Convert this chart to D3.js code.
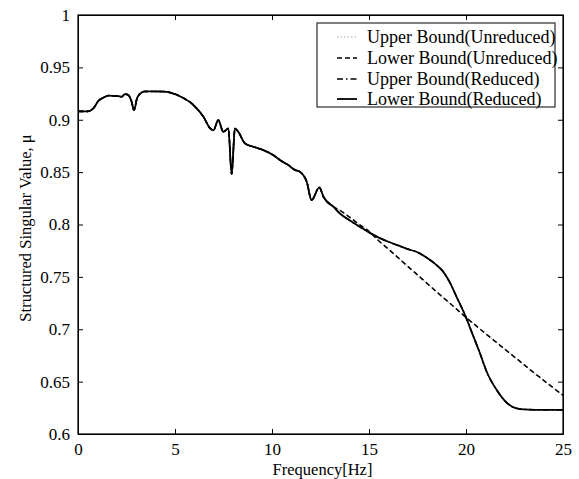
<!DOCTYPE html>
<html lang="en">
<head>
    <meta charset="UTF-8">
    <title>Structured Singular Value</title>
    <script src="https://cdn.jsdelivr.net/npm/d3@7"></script>
    <style>
        body { margin: 0; background: #fff; }
        svg { display: block; }
        .tick-label { font: 17px "Liberation Serif", "Times New Roman", serif; fill: #000; }
        .axis-label { font: 16.5px "Liberation Serif", "Times New Roman", serif; fill: #000; }
        .legend text { font: 18px "Liberation Serif", "Times New Roman", serif; fill: #000; }
    </style>
</head>
<body>
<script>
    // data
    const freqCommon = [0, 0.5, 0.8, 1.05, 1.3, 1.56, 2.08, 2.25, 2.42, 2.6, 2.75, 2.89, 3.05, 3.28, 3.45, 4.0, 4.48,
        5.0, 5.5, 5.77, 6.12, 6.46, 6.8, 6.98, 7.23, 7.49, 7.75, 7.92, 8.09, 8.26, 8.61, 9.04, 9.55, 10.07,
        10.41, 10.84, 11.19, 11.44, 11.79, 12.04, 12.44, 12.65, 13.16];
    const muCommon = [0.908, 0.908, 0.911, 0.918, 0.921, 0.923, 0.9225, 0.922, 0.9245, 0.9235, 0.918, 0.909, 0.921,
        0.926, 0.927, 0.927, 0.9268, 0.9245, 0.920, 0.917, 0.9108, 0.903, 0.892, 0.890, 0.8996, 0.8885, 0.8917,
        0.848, 0.8917, 0.8885, 0.8774, 0.8742, 0.871, 0.8662, 0.8615, 0.8567, 0.852, 0.8503, 0.8408, 0.8233,
        0.8354, 0.8265, 0.817];

    // unreduced model, above 13 Hz
    const freqUnreduced = [13.5, 14, 14.5, 15, 15.5, 16, 16.5, 17, 17.5, 18, 18.5, 19, 19.5, 20, 20.5, 21, 21.5,
        22, 22.5, 23, 23.5, 24, 24.5, 25];
    const upperUnreduced = [0.8135, 0.807, 0.800, 0.7935, 0.7845, 0.7765, 0.7683, 0.760, 0.752, 0.7437, 0.7355,
        0.7275, 0.7195, 0.7113, 0.7036, 0.696, 0.6885, 0.681, 0.6735, 0.666, 0.6585, 0.6513, 0.644, 0.637];
    const lowerUnreduced = [0.8135, 0.807, 0.800, 0.7935, 0.7845, 0.7765, 0.7683, 0.760, 0.752, 0.7437, 0.7355,
        0.7275, 0.7195, 0.7113, 0.7036, 0.696, 0.6885, 0.681, 0.6735, 0.666, 0.6585, 0.6513, 0.644, 0.637];

    // reduced model, above 13 Hz
    const freqReduced = [13.5, 14, 14.5, 15, 15.5, 16, 16.5, 17, 17.5, 18, 18.5, 18.8, 19.2, 19.5, 20, 20.3, 20.7,
        21.1, 21.6, 22.1, 22.6, 23, 24, 25];
    const upperReduced = [0.8105, 0.804, 0.798, 0.7925, 0.7875, 0.7835, 0.780, 0.7765, 0.7735, 0.768, 0.761,
        0.7555, 0.7435, 0.7315, 0.7113, 0.697, 0.678, 0.658, 0.6415, 0.6298, 0.6245, 0.6235, 0.623, 0.623];
    const lowerReduced = [0.8105, 0.804, 0.798, 0.7925, 0.7875, 0.7835, 0.780, 0.7765, 0.7735, 0.768, 0.761,
        0.7555, 0.7435, 0.7315, 0.7113, 0.697, 0.678, 0.658, 0.6415, 0.6298, 0.6245, 0.6235, 0.623, 0.623];

    const xTicks = [0, 5, 10, 15, 20, 25];
    const yTicks = [0.6, 0.65, 0.7, 0.75, 0.8, 0.85, 0.9, 0.95, 1];

    const series = [
        { label: "Upper Bound(Unreduced)", f: freqUnreduced, v: upperUnreduced, color: "#aaa", dash: "1.5,2", w: 1 },
        { label: "Lower Bound(Unreduced)", f: freqUnreduced, v: lowerUnreduced, color: "#000", dash: "5,3", w: 1.6 },
        { label: "Upper Bound(Reduced)", f: freqReduced, v: upperReduced, color: "#000", dash: "6,3,1.5,3", w: 1.6 },
        { label: "Lower Bound(Reduced)", f: freqReduced, v: lowerReduced, color: "#000", dash: null, w: 1.8 }
    ];

    const width = 579, height = 479;
    const margin = { top: 15, right: 16, bottom: 45, left: 78 };

    const svg = d3.select("body").append("svg")
        .attr("width", width)
        .attr("height", height);

    const x = d3.scaleLinear().domain([0, 25]).range([margin.left, width - margin.right]);
    const y = d3.scaleLinear().domain([0.6, 1]).range([height - margin.bottom, margin.top]);

    const line = d3.line()
        .curve(d3.curveMonotoneX)
        .x(d => x(d[0]))
        .y(d => y(d[1]));

    // curves
    series.forEach(s => {
        const pts = freqCommon.map((f, i) => [f, muCommon[i]])
            .concat(s.f.map((f, i) => [f, s.v[i]]));
        svg.append("path")
            .datum(pts)
            .attr("fill", "none")
            .attr("stroke", s.color)
            .attr("stroke-width", s.w)
            .attr("stroke-linejoin", "round")
            .attr("stroke-dasharray", s.dash)
            .attr("d", line);
    });

    // axes with inward ticks on all sides
    const tickLen = 5;
    const axisBottom = d3.axisBottom(x).tickValues(xTicks).tickSizeInner(-tickLen).tickSizeOuter(0).tickPadding(9);
    const axisTop = d3.axisTop(x).tickValues(xTicks).tickSizeInner(-tickLen).tickSizeOuter(0).tickFormat("");
    const axisLeft = d3.axisLeft(y).tickValues(yTicks).tickSizeInner(-tickLen).tickSizeOuter(0).tickPadding(8)
        .tickFormat(d => d3.format("")(+d.toFixed(2)));
    const axisRight = d3.axisRight(y).tickValues(yTicks).tickSizeInner(-tickLen).tickSizeOuter(0).tickFormat("");

    const gb = svg.append("g").attr("transform", `translate(0,${y(0.6)})`).call(axisBottom);
    svg.append("g").attr("transform", `translate(0,${y(1)})`).call(axisTop);
    const gl = svg.append("g").attr("transform", `translate(${x(0)},0)`).call(axisLeft);
    svg.append("g").attr("transform", `translate(${x(25)},0)`).call(axisRight);

    svg.selectAll(".domain").attr("stroke", "#000");
    svg.selectAll(".tick line").attr("stroke", "#000");
    gb.selectAll("text").attr("class", "tick-label").attr("font-size", null).attr("font-family", null);
    gl.selectAll("text").attr("class", "tick-label").attr("font-size", null).attr("font-family", null);

    // box
    svg.append("rect")
        .attr("x", x(0)).attr("y", y(1))
        .attr("width", x(25) - x(0)).attr("height", y(0.6) - y(1))
        .attr("fill", "none").attr("stroke", "#000").attr("stroke-width", 1.2);

    // axis labels
    svg.append("text")
        .attr("class", "axis-label")
        .attr("x", (x(0) + x(25)) / 2 + 2)
        .attr("y", 475)
        .attr("text-anchor", "middle")
        .text("Frequency[Hz]");

    svg.append("text")
        .attr("class", "axis-label")
        .attr("transform", `translate(31,${228}) rotate(-90)`)
        .attr("text-anchor", "middle")
        .text("Structured Singular Value, \u03bc");

    // legend
    const legend = svg.append("g").attr("class", "legend").attr("transform", "translate(317,23)");
    legend.append("rect")
        .attr("width", 238).attr("height", 84)
        .attr("fill", "#fff").attr("stroke", "#000").attr("stroke-width", 1);

    const rowY = [14, 35, 56, 76];
    series.forEach((s, i) => {
        legend.append("line")
            .attr("x1", 20).attr("x2", 40)
            .attr("y1", rowY[i]).attr("y2", rowY[i])
            .attr("stroke", s.color)
            .attr("stroke-width", s.w)
            .attr("stroke-dasharray", s.dash);
        legend.append("text")
            .attr("x", 50).attr("y", rowY[i] + 6)
            .text(s.label);
    });
</script>
</body>
</html>
